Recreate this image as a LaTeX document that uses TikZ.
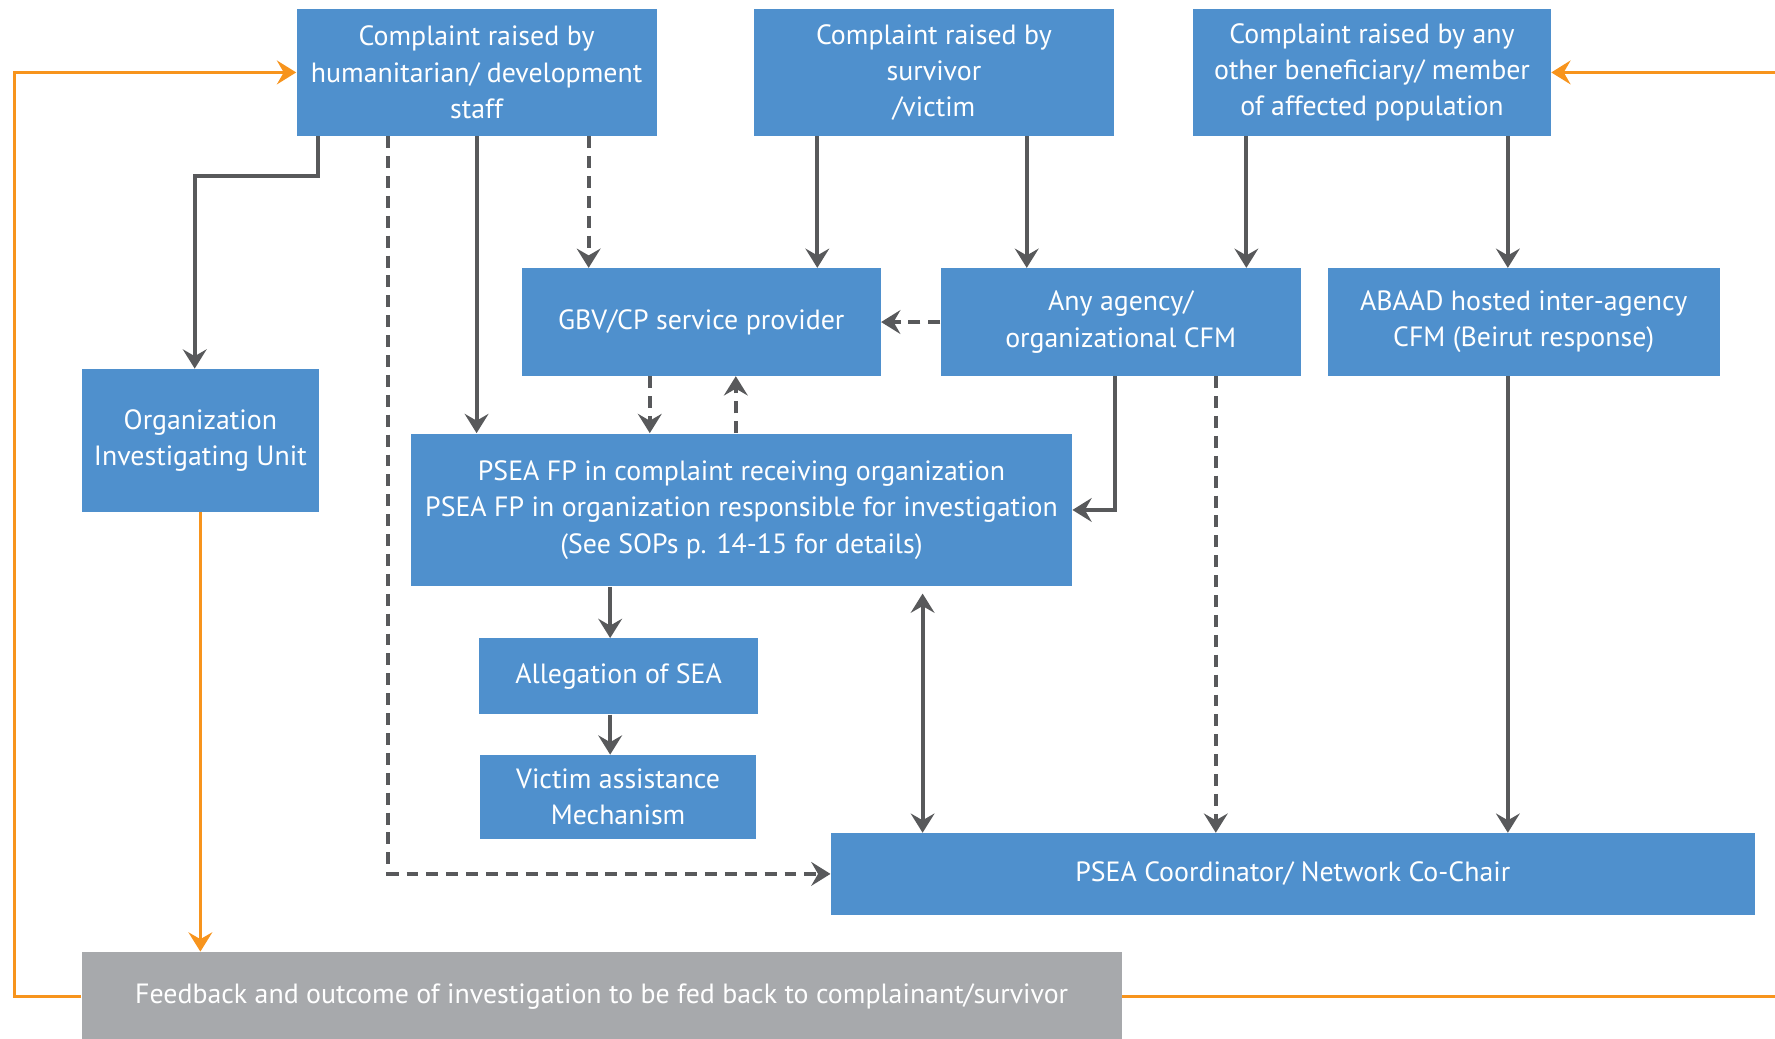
\documentclass[tikz,border=0pt]{standalone}
\usepackage{fontspec}
\setmainfont{PT Sans}
\usetikzlibrary{arrows.meta}
\definecolor{boxblue}{RGB}{79,144,205}
\definecolor{boxgray}{RGB}{167,169,172}
\definecolor{linegray}{RGB}{88,89,91}
\definecolor{backorange}{RGB}{247,148,29}

\begin{document}
\begin{tikzpicture}[
        >={Stealth[length = 0.34cm, width = 0.42cm, inset = 0.12cm]},
        box/.style = {rectangle, fill = boxblue, text = white, align = center, inner sep = 0pt, font = \fontsize{14}{18.2}\selectfont},
        feedbox/.style = {box, fill = boxgray},
        solidarr/.style = {->, draw = linegray, line width = 2pt},
        dasharr/.style = {solidarr, dash pattern = on 6pt off 4pt},
        backline/.style = {->, draw = backorange, line width = 1.6pt}
    ]
            \useasboundingbox (0, 0) rectangle (31.36, 18.34);

            \node[box, minimum width = 6.36cm, minimum height = 2.24cm] (staff) at (8.42, 17.06) {Complaint raised by\\humanitarian/ development\\staff};
            \node[box, minimum width = 6.36cm, minimum height = 2.24cm] (survivor) at (16.50, 17.06) {Complaint raised by\\survivor\\/victim};
            \node[box, minimum width = 6.32cm, minimum height = 2.24cm] (population) at (24.24, 17.06) {Complaint raised by any\\other beneficiary/ member\\of affected population};

            \node[box, minimum width = 6.34cm, minimum height = 1.9cm] (gbv) at (12.39, 12.65) {GBV/CP service provider};
            \node[box, minimum width = 6.36cm, minimum height = 1.9cm] (cfm) at (19.80, 12.65) {Any agency/\\organizational CFM};
            \node[box, minimum width = 6.92cm, minimum height = 1.9cm] (abaad) at (26.92, 12.65) {ABAAD hosted inter-agency\\CFM (Beirut response)};

            \node[box, minimum width = 4.2cm, minimum height = 2.52cm] (oiu) at (3.54, 10.56) {Organization\\Investigating Unit};
            \node[box, minimum width = 11.68cm, minimum height = 2.7cm] (fp) at (13.10, 9.33) {PSEA FP in complaint receiving organization\\PSEA FP in organization responsible for investigation\\(See SOPs p. 14-15 for details)};
            \node[box, minimum width = 4.94cm, minimum height = 1.34cm] (sea) at (10.93, 6.39) {Allegation of SEA};
            \node[box, minimum width = 4.88cm, minimum height = 1.48cm] (vam) at (10.92, 4.26) {Victim assistance\\Mechanism};
            \node[box, minimum width = 16.32cm, minimum height = 1.44cm] (coord) at (22.84, 2.90) {PSEA Coordinator/ Network Co-Chair};
            \node[feedbox, minimum width = 18.38cm, minimum height = 1.58cm] (feedback) at (10.63, 0.73) {Feedback and outcome of investigation to be fed back to complainant/survivor};

            \draw[solidarr] ([xshift = -2.8cm]staff.south) -- ++(0, -0.7) -| ([xshift = -0.1cm]oiu.north);
            \draw[dasharr] ([xshift = -1.56cm]staff.south) |- (coord.west);
            \draw[solidarr] (staff.south) -- (staff.south |- fp.north);
            \draw[dasharr] ([xshift = 1.98cm]staff.south) -- ([xshift = 1.98cm]staff.south |- gbv.north);
            \draw[solidarr] ([xshift = -2.06cm]survivor.south) -- ([xshift = -2.06cm]survivor.south |- gbv.north);
            \draw[solidarr] ([xshift = 1.64cm]survivor.south) -- ([xshift = 1.64cm]survivor.south |- cfm.north);
            \draw[solidarr] ([xshift = -2.22cm]population.south) -- ([xshift = -2.22cm]population.south |- cfm.north);
            \draw[solidarr] ([xshift = 2.4cm]population.south) -- ([xshift = 2.4cm]population.south |- abaad.north);

            \draw[dasharr] (cfm.west) -- (gbv.east);
            \draw[dasharr] ([xshift = -0.91cm]gbv.south) -- ([xshift = -0.91cm]gbv.south |- fp.north);
            \draw[dasharr] ([xshift = 0.61cm]gbv.south |- fp.north) -- ([xshift = 0.61cm]gbv.south);
            \draw[solidarr] ([xshift = -0.1cm]cfm.south) |- (fp.east);
            \draw[dasharr] ([xshift = 1.68cm]cfm.south) -- ([xshift = 1.68cm]cfm.south |- coord.north);
            \draw[solidarr] ([xshift = -0.28cm]abaad.south) -- ([xshift = -0.28cm]abaad.south |- coord.north);

            \draw[solidarr] ([xshift = -0.15cm]sea.north |- fp.south) -- ([xshift = -0.15cm]sea.north);
            \draw[solidarr] ([xshift = -0.15cm]sea.south) -- ([xshift = -0.15cm]sea.south |- vam.north);
            \draw[solidarr, <->, shorten < = 0.12cm] ([xshift = 3.2cm]fp.south) -- ([xshift = 3.2cm]fp.south |- coord.north);

            \draw[backline] (oiu.south) -- (oiu.south |- feedback.north);
            \draw[backline] (feedback.west) -- ++(-1.18, 0) |- (staff.west);
            \draw[backline] (feedback.east) -- ++(12.2, 0) |- (population.east);
        \end{tikzpicture}
\end{document}
